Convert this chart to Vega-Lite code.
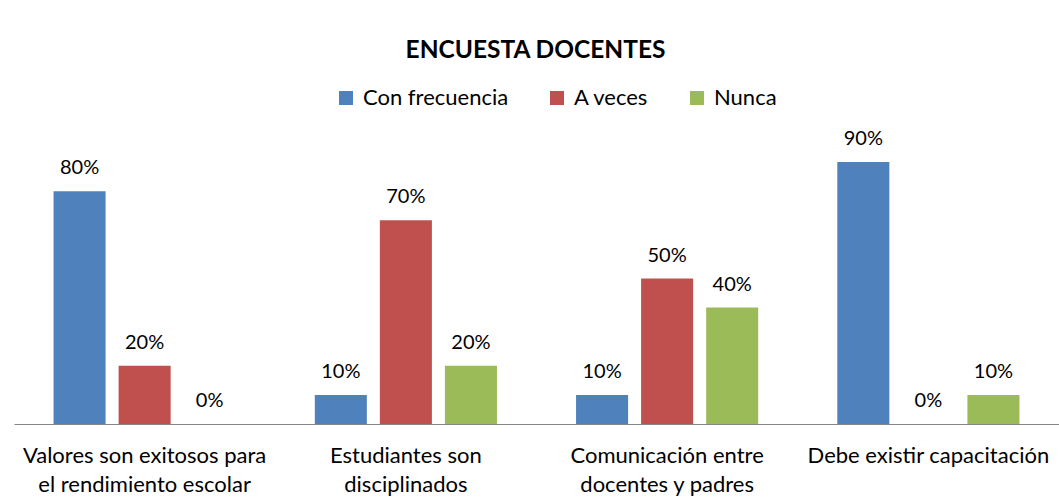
{
  "$schema": "https://vega.github.io/schema/vega-lite/v6.json",
  "autosize": "none",
  "width": 1045,
  "height": 291,
  "padding": {"left": 14, "top": 133, "right": 0, "bottom": 74},
  "background": "white",
  "config": {
    "view": {"stroke": null},
    "font": "Lato",
    "title": {"font": "Lato", "fontSize": 24.5, "fontWeight": "bold", "color": "#000000"}
  },
  "title": {"text": "ENCUESTA DOCENTES", "anchor": "middle", "offset": 24, "dx": -1},
  "data": {
    "values": [
      {"cat": "Valores son exitosos para el rendimiento escolar", "serie": "Con frecuencia", "valor": 0.8},
      {"cat": "Valores son exitosos para el rendimiento escolar", "serie": "A veces", "valor": 0.2},
      {"cat": "Valores son exitosos para el rendimiento escolar", "serie": "Nunca", "valor": 0.0},
      {"cat": "Estudiantes son disciplinados", "serie": "Con frecuencia", "valor": 0.1},
      {"cat": "Estudiantes son disciplinados", "serie": "A veces", "valor": 0.7},
      {"cat": "Estudiantes son disciplinados", "serie": "Nunca", "valor": 0.2},
      {"cat": "Comunicación entre docentes y padres", "serie": "Con frecuencia", "valor": 0.1},
      {"cat": "Comunicación entre docentes y padres", "serie": "A veces", "valor": 0.5},
      {"cat": "Comunicación entre docentes y padres", "serie": "Nunca", "valor": 0.4},
      {"cat": "Debe existir capacitación", "serie": "Con frecuencia", "valor": 0.9},
      {"cat": "Debe existir capacitación", "serie": "A veces", "valor": 0.0},
      {"cat": "Debe existir capacitación", "serie": "Nunca", "valor": 0.1}
    ]
  },
  "encoding": {
    "x": {
      "field": "cat", "type": "nominal", "sort": null,
      "scale": {"paddingInner": 0, "paddingOuter": 0},
      "axis": {
        "title": null, "ticks": false, "domainColor": "#868686", "domainWidth": 1,
        "labelAngle": 0, "labelFont": "Lato", "labelFontSize": 22, "labelColor": "#000000",
        "labelPadding": 21, "labelLineHeight": 29, "labelBaseline": "top", "labelLimit": 300,
        "labelExpr": "datum.value == 'Valores son exitosos para el rendimiento escolar' ? ['Valores son exitosos para', 'el rendimiento escolar'] : datum.value == 'Estudiantes son disciplinados' ? ['Estudiantes son', 'disciplinados'] : datum.value == 'Comunicación entre docentes y padres' ? ['Comunicación entre', 'docentes y padres'] : datum.value"
      }
    },
    "xOffset": {
      "field": "serie", "type": "nominal", "sort": ["Con frecuencia", "A veces", "Nunca"],
      "scale": {"paddingInner": 0.2, "paddingOuter": 0.608}
    },
    "y": {
      "field": "valor", "type": "quantitative",
      "scale": {"domain": [0, 1]},
      "axis": null
    }
  },
  "layer": [
    {
      "mark": {"type": "bar"},
      "encoding": {
        "color": {
          "field": "serie", "type": "nominal",
          "sort": ["Con frecuencia", "A veces", "Nunca"],
          "scale": {"domain": ["Con frecuencia", "A veces", "Nunca"], "range": ["#4F81BD", "#C0504D", "#9BBB59"]},
          "legend": {
            "title": null, "orient": "none", "direction": "horizontal",
            "legendX": 321, "legendY": -46,
            "symbolType": "square", "symbolSize": 196, "symbolStrokeWidth": 0,
            "labelFont": "Lato", "labelFontSize": 22, "labelColor": "#000000",
            "labelOffset": 6, "columnPadding": 37
          }
        }
      }
    },
    {
      "mark": {"type": "text", "baseline": "alphabetic", "dy": -17, "font": "Lato", "fontSize": 20, "color": "#000000"},
      "encoding": {
        "text": {"field": "valor", "type": "quantitative", "format": ".0%"}
      }
    }
  ]
}
